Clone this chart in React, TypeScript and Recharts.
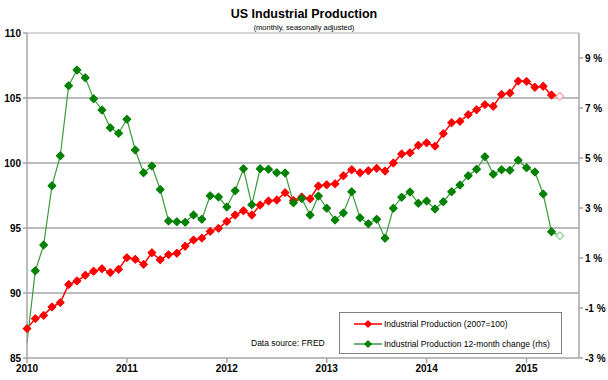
import React from 'react'
import { LineChart, Line, XAxis, YAxis, CartesianGrid, ReferenceLine } from 'recharts'

// monthly, Jan 2010 .. May 2015
const years = ['2010', '2011', '2012', '2013', '2014', '2015']

const ipIndex = [
  87.26, 88.03, 88.28, 88.93, 89.26, 90.65, 90.92, 91.36, 91.67, 91.87, 91.57, 91.82,
  92.72, 92.59, 92.2, 93.1, 92.56, 92.95, 93.06, 93.6, 94.08, 94.22, 94.74, 94.97,
  95.5, 96.0, 96.33, 96.0, 96.77, 97.08, 97.15, 97.72, 97.12, 97.38, 97.25, 98.23,
  98.33, 98.4, 99.02, 99.48, 99.25, 99.41, 99.59, 99.38, 100.0, 100.69, 100.79, 101.36,
  101.55, 101.3, 102.26, 103.1, 103.2, 103.72, 104.1, 104.49, 104.36, 105.28, 105.38, 106.3,
  106.28, 105.83, 105.9, 105.23, 105.13,
]

const ipChange = [
  -2.4, 0.49, 1.52, 3.89, 5.09, 7.89, 8.52, 8.21, 7.37, 6.92, 6.21, 5.99,
  6.55, 5.32, 4.41, 4.68, 3.74, 2.48, 2.45, 2.43, 2.72, 2.55, 3.49, 3.44,
  3.04, 3.69, 4.57, 3.13, 4.57, 4.55, 4.41, 4.4, 3.21, 3.38, 2.72, 3.48,
  2.99, 2.52, 2.8, 3.65, 2.61, 2.37, 2.55, 1.79, 2.99, 3.43, 3.64, 3.19,
  3.28, 2.96, 3.25, 3.65, 3.92, 4.29, 4.55, 5.05, 4.35, 4.53, 4.51, 4.91,
  4.61, 4.44, 3.56, 2.05, 1.89,
]

const leftTicks = [85, 90, 95, 100, 105, 110]
const rightTicks = [-3, -1, 1, 3, 5, 7, 9]

const data = ipIndex.map((v, i) => ({ m: i, ip: v, chg: ipChange[i] }))
const last = data.length - 1

const font = '"Liberation Sans", Arial, sans-serif'
const tickStyle = { fontFamily: font, fontSize: 10, fontWeight: 'bold', fill: '#000' }
const axisGray = '#a6a6a6'

const makeDot = (color: string, hollow: string, skipFirst: boolean) => (props: any) => {
  const { cx, cy, index } = props
  if (cx == null || cy == null || (skipFirst && index === 0)) return <g key={`e-${index}`} />
  const r = 3.8
  const isLast = index === last
  return (
    <path
      key={`d-${index}`}
      d={`M${cx},${cy - r}L${cx + r},${cy}L${cx},${cy + r}L${cx - r},${cy}Z`}
      fill={isLast ? '#fff' : color}
      stroke={isLast ? hollow : color}
      strokeWidth={1.2}
      strokeLinejoin="round"
    />
  )
}

// plain text tick so "-1 %" stays on one line
const PctTick = (props: any) => {
  const { x, y, payload } = props
  return (
    <text x={x} y={y} dy="0.35em" textAnchor="start" {...tickStyle}>
      {`${payload.value} %`}
    </text>
  )
}

const LegendIcon = ({ line, dot }: { line: string; dot: string }) => (
  <svg width={28} height={8} style={{ marginRight: 2 }}>
    <line x1={0} y1={4} x2={28} y2={4} stroke={line} strokeWidth={1.5} />
    <path d="M14,0.5L17.5,4L14,7.5L10.5,4Z" fill={dot} stroke={dot} strokeWidth={1} />
  </svg>
)

const IndustrialProductionChart: React.FC = () => {
  return (
    <div style={{ position: 'absolute', left: 0, top: 0, width: 608, height: 380, background: '#fff' }}>
      <div
        style={{
          position: 'absolute', left: 0, width: 608, top: 7, textAlign: 'center',
          fontFamily: font, fontWeight: 'bold', fontSize: 12.5,
        }}
      >
        US Industrial Production
      </div>
      <div
        style={{
          position: 'absolute', left: 0, width: 608, top: 23, textAlign: 'center',
          fontFamily: font, fontSize: 7.5, color: '#000',
        }}
      >
        (monthly, seasonally adjusted)
      </div>
      <LineChart width={608} height={380} data={data} margin={{ top: 33, right: 0, bottom: 0, left: 0 }}>
        <CartesianGrid
          yAxisId="left"
          vertical={false}
          horizontalValues={[90, 95, 100, 105]}
          stroke={axisGray}
          strokeWidth={1.5}
        />
        <ReferenceLine yAxisId="left" y={110} stroke="#c8c8c8" strokeWidth={1.5} />
        <XAxis
          dataKey="m"
          type="number"
          domain={[0, 66.3]}
          ticks={[0, 12, 24, 36, 48, 60]}
          tickFormatter={(v: number) => years[v / 12]}
          height={22}
          tickSize={5}
          tick={tickStyle}
          stroke={axisGray}
          strokeWidth={1.5}
        />
        <YAxis
          yAxisId="left"
          orientation="left"
          domain={[85, 110]}
          ticks={leftTicks}
          width={27}
          tickSize={4}
          tick={tickStyle}
          stroke={axisGray}
          strokeWidth={1.5}
        />
        <YAxis
          yAxisId="right"
          orientation="right"
          domain={[-3, 10]}
          ticks={rightTicks}
          width={29}
          tickSize={4}
          tick={<PctTick />}
          stroke={axisGray}
          strokeWidth={1.5}
        />
        <Line
          yAxisId="left"
          dataKey="ip"
          stroke="#ff0000"
          strokeWidth={1.5}
          dot={makeDot('#ff0000', '#ff9a9a', false)}
          activeDot={false}
          isAnimationActive={false}
        />
        <Line
          yAxisId="right"
          dataKey="chg"
          stroke="#3b9b3b"
          strokeWidth={1.2}
          dot={makeDot('#008000', '#8fcf8f', true)}
          activeDot={false}
          isAnimationActive={false}
        />
      </LineChart>
      <div
        style={{
          position: 'absolute', left: 251, top: 338, fontFamily: font, fontSize: 8.5, whiteSpace: 'nowrap',
        }}
      >
        Data source: FRED
      </div>
      <div
        style={{
          position: 'absolute', left: 339, top: 312, width: 221, height: 40,
          border: '1px solid #808080', background: '#fff', fontFamily: font, fontSize: 8.5,
        }}
      >
        <div style={{ position: 'absolute', left: 14, top: 6, display: 'flex', alignItems: 'center', whiteSpace: 'nowrap' }}>
          <LegendIcon line="#ff0000" dot="#ff0000" />
          Industrial Production (2007=100)
        </div>
        <div style={{ position: 'absolute', left: 14, top: 26, display: 'flex', alignItems: 'center', whiteSpace: 'nowrap' }}>
          <LegendIcon line="#3b9b3b" dot="#008000" />
          Industrial Production 12-month change (rhs)
        </div>
      </div>
    </div>
  )
}

export default function App() {
  return <IndustrialProductionChart />
}
